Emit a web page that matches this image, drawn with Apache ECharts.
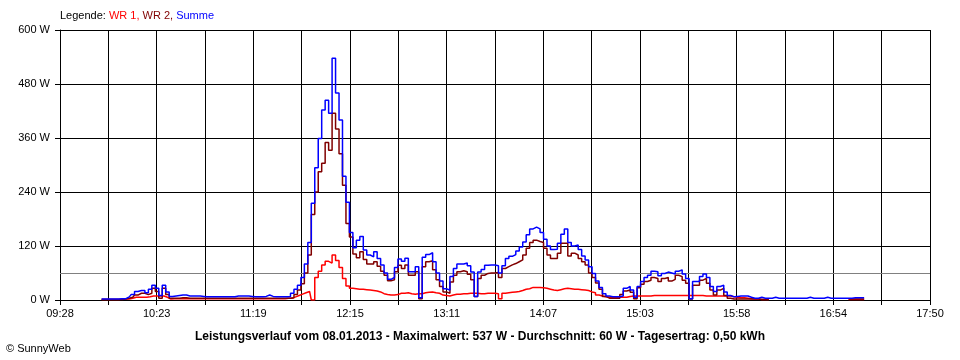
<!DOCTYPE html>
<html><head><meta charset="utf-8">
<script src="https://cdn.jsdelivr.net/npm/echarts@6/dist/echarts.min.js"></script>
<style>html,body{margin:0;padding:0;background:#fff}#c{width:960px;height:360px}</style>
</head><body><div id="c"></div>
<script>
// x-axis tick labels (every second grid line)
const tickLabels = ['09:28','10:23','11:19','12:15','13:11','14:07','15:03','15:58','16:54','17:50'];
const axisStart = '09:28';
const axisEnd = '17:50';
const gridSteps = 18;
// sampling of the readings
const sampleStart = '09:52';
const sampleStepMin = 2;
const seriesNames = ['WR 1', 'WR 2', 'Summe'];
const yTicks = [0, 120, 240, 360, 480, 600];
const average = 60;
const chartTitle = 'Leistungsverlauf vom 08.01.2013 - Maximalwert: 537 W - Durchschnitt: 60 W - Tagesertrag: 0,50 kWh';
const N = null;
const wr1 = [
1,1,1,1,1,1,2,2,2,4,
6,6,6,6,7,9,9,9,9,6,
2,3,3,3,3,3,3,3,3,3,
3,3,3,3,3,3,3,3,3,3,
3,3,3,3,3,3,3,3,3,3,
3,3,3,3,4,4,7,10,13,16,
19,0,50,64,78,86,82,100,88,72,
48,31,26,25,24,24,23,22,21,20,
18,14,12,11,11,12,15,15,16,14,
13,14,14,16,17,18,16,15,11,10,
9,11,13,13,14,14,15,15,15,14,
14,15,15,15,14,3,15,16,17,18,
19,21,24,25,28,28,28,27,26,24,
22,21,23,25,26,25,24,24,23,22,
21,18,16,11,9,7,6,6,6,6,
6,6,8,9,9,9,9,9,9,10,
10,10,10,10,10,10,10,10,10,10,
10,10,10,10,9,9,9,9,9,9,
9,9,7,6,5,5,4,3,2,2,
1,1,1,N,N,N,N,N,N,N,
N,N,N,N,N,N,N,N,N,N,
N,N,N,N,N,N,1,1,1,1,
1];
const wr2 = [
1,1,1,1,1,1,1,2,4,6,
11,15,15,12,15,26,19,4,26,12,
4,4,4,5,5,4,4,4,4,4,
4,4,4,4,4,4,4,4,4,4,
4,4,4,4,4,4,4,4,4,4,
4,4,4,4,4,5,12,22,36,60,
100,190,240,285,304,350,333,415,380,325,
255,170,140,102,94,107,90,80,80,85,
75,64,55,43,45,63,77,70,78,55,
55,63,3,74,85,87,67,45,30,18,
15,40,55,63,65,63,57,45,8,48,
55,59,60,60,61,50,70,74,78,81,
85,89,100,115,128,133,130,128,115,100,
92,92,104,126,126,98,104,100,92,85,
78,60,50,38,24,8,4,4,4,4,
12,20,22,17,3,27,35,41,44,50,
48,41,48,50,42,46,55,52,44,37,
2,33,33,44,48,37,22,11,22,26,
10,4,2,2,2,2,2,2,2,2,
1,1,1,N,N,N,N,N,N,N,
N,N,N,N,N,N,N,N,N,N,
N,N,N,N,N,N,2,2,2,2,
2];
const summe = [
2,2,2,2,2,2,3,3,7,12,
19,21,21,16,24,33,26,10,33,18,
8,9,10,11,11,9,9,9,9,8,
7,7,7,7,7,7,7,7,7,9,
9,9,9,8,7,7,7,8,11,8,
7,7,7,7,8,15,24,33,50,80,
128,215,294,359,422,444,415,537,460,400,
275,217,150,116,133,141,111,100,96,107,
92,78,60,46,50,72,91,86,93,63,
63,74,5,95,101,105,85,60,42,25,
22,52,70,80,80,82,76,62,8,62,
68,77,78,78,76,60,76,92,97,101,
109,118,129,145,158,162,158,150,135,120,
112,113,126,146,158,128,120,122,112,98,
89,74,59,42,28,14,9,7,7,7,
9,26,30,22,6,30,41,50,55,64,
63,54,59,62,60,58,64,67,58,48,
3,41,41,52,58,50,30,19,30,33,
18,10,7,8,9,9,9,6,4,4,
6,4,4,4,6,4,4,4,4,4,
4,4,4,4,6,4,4,4,4,6,
4,4,4,4,4,4,4,5,5,5,
5];

function toMin(s){const p=s.split(':');return (+p[0])*60+(+p[1]);}
const spanMin = toMin(axisEnd) - toMin(axisStart);
const minPerGrid = spanMin / gridSteps;
const offset = toMin(sampleStart) - toMin(axisStart);
function pairs(arr){
  return arr.map((v,i)=>[(offset + i*sampleStepMin)/minPerGrid, v===null?'-':v]);
}
const FONT = '"Liberation Sans", Arial, sans-serif';
const chart = echarts.init(document.getElementById('c'), null, {renderer:'canvas'});
const colors = ['#ff0000', '#800000', '#0000ff'];
const datas = [wr1, wr2, summe];
chart.setOption({
  animation: false,
  backgroundColor: '#ffffff',
  grid: {left: 60, right: 30, top: 30, bottom: 60, containLabel: false},
  xAxis: {
    type: 'value', min: 0, max: gridSteps, interval: 1,
    axisLine: {show: true, lineStyle: {color: '#000', width: 1}},
    axisTick: {show: true, length: 5, lineStyle: {color: '#000'}},
    splitLine: {show: true, lineStyle: {color: '#000', width: 1}},
    axisLabel: {
      margin: 8, color: '#000', fontSize: 11, fontFamily: FONT,
      showMinLabel: true, showMaxLabel: true,
      formatter: v => (Math.round(v) % 2 === 0 ? tickLabels[Math.round(v) / 2] : '')
    }
  },
  yAxis: {
    type: 'value', min: yTicks[0], max: yTicks[yTicks.length-1], interval: yTicks[1]-yTicks[0],
    axisLine: {show: true, lineStyle: {color: '#000', width: 1}},
    axisTick: {show: true, length: 5, lineStyle: {color: '#000'}},
    splitLine: {show: true, lineStyle: {color: '#000', width: 1}},
    axisLabel: {margin: 10, color: '#000', fontSize: 11, fontFamily: FONT, formatter: '{value} W'}
  },
  series: datas.map((d, k) => ({
    name: seriesNames[k], type: 'line', data: pairs(d), step: 'middle',
    showSymbol: false, symbol: 'none', connectNulls: false,
    lineStyle: {color: colors[k], width: 1.5}, itemStyle: {color: colors[k]},
    z: 3 + k,
    markLine: k === 0 ? {
      silent: true, symbol: 'none', label: {show: false},
      lineStyle: {color: '#808080', width: 1, type: 'solid'},
      data: [{yAxis: average}], z: 1
    } : undefined
  })),
  graphic: [
    {type: 'text', x: 60, y: 16, style: {
      text: '{k|Legende: }{a|' + seriesNames[0] + ', }{b|' + seriesNames[1] + ', }{c|' + seriesNames[2] + '}',
      font: '11px ' + FONT, verticalAlign: 'middle',
      rich: {k: {fill: '#000', fontSize: 11, fontFamily: FONT}, a: {fill: colors[0], fontSize: 11, fontFamily: FONT},
             b: {fill: colors[1], fontSize: 11, fontFamily: FONT}, c: {fill: colors[2], fontSize: 11, fontFamily: FONT}}
    }},
    {type: 'text', x: 480, y: 337, style: {text: chartTitle, font: 'bold 12px ' + FONT, fill: '#000', align: 'center', verticalAlign: 'middle'}},
    {type: 'text', x: 6, y: 349, style: {text: '\u00A9 SunnyWeb', font: '11px ' + FONT, fill: '#000', verticalAlign: 'middle'}}
  ]
});
</script></body></html>
